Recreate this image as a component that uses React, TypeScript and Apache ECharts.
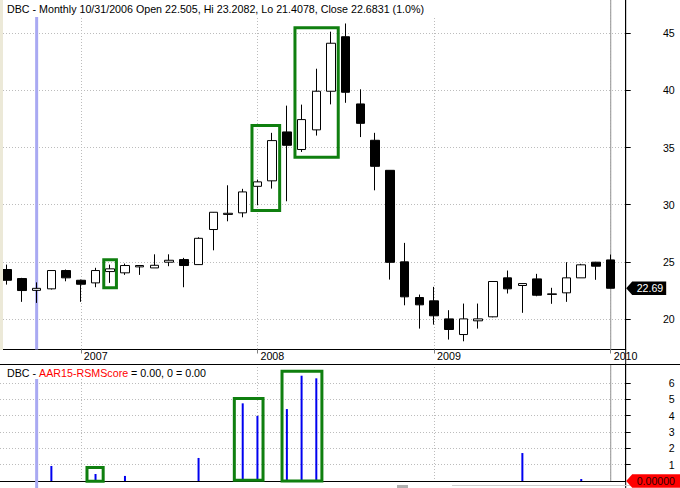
import React, { useEffect, useRef } from 'react';
import * as echarts from 'echarts';

// Monthly DBC candles, Aug 2006 (index 0) .. Jan 2010 (index 41)
const opens = [24.33, 23.54, 22.505, 22.64, 24.24, 23.39, 23.16, 24.15, 24.04, 24.56, 24.47, 24.97, 25.2, 24.76, 27.83, 29.15, 29.29, 31.61, 32.09, 36.37, 34.83, 36.55, 39.93, 44.7, 38.82, 35.64, 33.01, 25.0, 21.88, 21.59, 20.01, 18.64, 19.84, 20.19, 23.6, 22.93, 23.51, 22.15, 22.29, 23.6, 24.97, 25.17];
const closes = [23.39, 22.49, 22.6831, 24.24, 23.6, 23.04, 24.24, 24.39, 24.68, 24.68, 24.7, 25.14, 24.68, 27.06, 29.34, 29.25, 31.12, 32.0, 35.61, 35.2, 37.45, 39.93, 44.13, 39.84, 37.12, 33.36, 24.96, 21.94, 21.24, 20.28, 19.08, 20.01, 20.01, 23.28, 22.64, 23.1, 22.08, 22.2, 23.6, 24.74, 24.62, 22.69];
const lows = [23.01, 21.5, 21.4078, 22.58, 23.3, 21.5, 22.78, 23.16, 23.86, 23.86, 24.47, 24.62, 22.78, 24.74, 26.01, 28.55, 28.9, 29.95, 31.41, 30.3, 34.62, 36.05, 38.78, 38.92, 35.92, 31.26, 23.45, 21.2, 19.16, 19.51, 18.2, 18.05, 19.16, 20.15, 22.23, 20.54, 21.99, 21.33, 21.5, 23.6, 23.43, 22.69];
const highs = [24.76, 23.6, 23.2082, 24.26, 24.33, 23.45, 24.48, 24.76, 24.85, 24.7, 25.66, 25.66, 25.35, 27.15, 29.36, 31.7, 31.39, 32.2, 36.29, 38.67, 38.76, 41.9, 45.14, 45.86, 40.1, 36.29, 33.01, 26.66, 22.14, 22.81, 20.77, 21.35, 21.35, 23.3, 24.24, 23.12, 23.95, 22.73, 24.97, 24.83, 25.0, 25.64];

// AAR15-RSMScore bars
const scoreIdx = [3, 6, 8, 13, 16, 17, 19, 20, 21, 35, 39];
const scoreVals = [0.92, 0.43, 0.31, 1.41, 4.75, 3.98, 4.4, 6.44, 6.28, 1.71, 0.12];

const yearTicks = [5, 17, 29, 41];
const yearLabels = ['2007', '2008', '2009', '2010'];
const priceTicks = [20, 25, 30, 35, 40, 45];
const scoreTicks = [1, 2, 3, 4, 5, 6];

const cursorIdx = 2;
const currentIdx = 41;

// highlight boxes [x0, x1, yLow, yHigh] in data units
const priceBoxes = [
  [6.56, 7.42, 22.73, 25.19],
  [16.63, 18.51, 29.5, 36.93],
  [19.55, 22.49, 34.15, 45.48],
];
const scoreBoxes = [
  [5.42, 6.52, -0.02, 0.83],
  [15.43, 17.38, 0.05, 5.05],
  [18.67, 21.38, 0.0, 6.72],
];

const header1 = 'DBC - Monthly 10/31/2006 Open 22.505, Hi 23.2082, Lo 21.4078, Close 22.6831 (1.0%)';
const header2a = 'DBC - ';
const header2b = 'AAR15-RSMScore';
const header2c = ' = 0.00, 0 = 0.00';

const X_MIN = -0.49;
const X_MAX = 42.02;
const P_MIN = 17.331;
const P_MAX = 47.914;
const S_MIN = 0;
const S_MAX = 7.156;

const FONT = 'Liberation Sans';
const FS = 10.7;

export default function App() {
  const ref = useRef<HTMLDivElement>(null);

  useEffect(() => {
    if (!ref.current) return;
    const chart = echarts.init(ref.current, undefined, { renderer: 'svg' });
    const dotted = { color: '#bcbcbc', width: 1, type: [1, 2] as any };
    const candleData = opens.map((o, i) => [i, o, closes[i], lows[i], highs[i]]);
    const scoreData = scoreIdx.map((x, i) => [x, scoreVals[i]]);
    const yearFmt = (v: number) => {
      const k = yearTicks.indexOf(Math.round(v));
      return k >= 0 ? yearLabels[k] : '';
    };

    const xAxisBase = (g: number, labels: boolean) => ({
      type: 'value',
      gridIndex: g,
      min: X_MIN,
      max: X_MAX,
      axisLine: { show: true, onZero: false, lineStyle: { color: '#000', width: 1 } },
      axisTick: { show: labels, customValues: yearTicks, length: 4, lineStyle: { color: '#808080' } },
      axisLabel: {
        show: labels,
        customValues: yearTicks,
        formatter: yearFmt,
        align: 'left',
        padding: [0, 0, 0, 3],
        margin: 1,
        color: '#000',
        fontSize: FS,
        fontFamily: FONT,
      },
      splitLine: { show: true, lineStyle: dotted },
    });

    const yAxisBase = (g: number, min: number, max: number, ticks: number[]) => ({
      type: 'value',
      gridIndex: g,
      position: 'right',
      min,
      max,
      axisLine: { show: true, onZero: false, lineStyle: { color: '#000', width: 1 } },
      axisTick: { show: true, customValues: ticks, length: 5, lineStyle: { color: '#000' } },
      axisLabel: {
        customValues: ticks,
        align: 'right',
        margin: 49,
        color: '#000',
        fontSize: 10.6,
        fontFamily: FONT,
      },
      splitLine: { show: true, lineStyle: dotted },
    });

    const vline = (xi: number, yi: number, x: number, y0: number, y1: number, color: string, width: number) => ({
      type: 'line',
      xAxisIndex: xi,
      yAxisIndex: yi,
      data: [[x, y0], [x, y1]],
      symbol: 'none',
      silent: true,
      z: 1,
      lineStyle: { color, width },
    });

    chart.setOption({
      animation: false,
      backgroundColor: '#ffffff',
      textStyle: { fontFamily: FONT },
      grid: [
        { left: 0, top: 0, width: 625.7, height: 349.5, outerBoundsMode: 'none' },
        { left: 0, top: 364, width: 625.7, height: 117, outerBoundsMode: 'none' },
      ],
      xAxis: [xAxisBase(0, true), xAxisBase(1, false)],
      yAxis: [yAxisBase(0, P_MIN, P_MAX, priceTicks), yAxisBase(1, S_MIN, S_MAX, scoreTicks)],
      series: [
        vline(0, 0, cursorIdx, P_MIN, P_MAX, '#a9a9f2', 3),
        vline(0, 0, currentIdx, P_MIN, P_MAX, '#a4a4a4', 1.2),
        {
          type: 'candlestick',
          xAxisIndex: 0,
          yAxisIndex: 0,
          data: candleData,
          barWidth: 9,
          z: 3,
          itemStyle: {
            color: '#ffffff',
            color0: '#000000',
            borderColor: '#000000',
            borderColor0: '#000000',
            borderColorDoji: '#000000',
            borderWidth: 1,
          },
        },
        vline(1, 1, cursorIdx, S_MIN, S_MAX, '#a9a9f2', 3),
        vline(1, 1, currentIdx, S_MIN, S_MAX, '#a4a4a4', 1.2),
        {
          type: 'bar',
          xAxisIndex: 1,
          yAxisIndex: 1,
          data: scoreData,
          barWidth: 2,
          z: 3,
          itemStyle: { color: '#0000f0' },
        },
      ],
    });

    const p0 = (x: number, y: number) => chart.convertToPixel({ gridIndex: 0 } as any, [x, y]) as number[];
    const p1 = (x: number, y: number) => chart.convertToPixel({ gridIndex: 1 } as any, [x, y]) as number[];
    const axisX = p0(X_MAX, P_MIN)[0];

    const boxEl = (b: number[], f: (x: number, y: number) => number[]) => {
      const a = f(b[0], b[3]);
      const c = f(b[1], b[2]);
      return {
        type: 'rect',
        z: 100,
        silent: true,
        shape: { x: a[0], y: a[1], width: c[0] - a[0], height: c[1] - a[1] },
        style: { fill: 'none', stroke: '#0f7f0f', lineWidth: 3 },
      };
    };

    const tag = (y: number, right: number, fill: string) => ({
      type: 'polygon',
      z: 110,
      silent: true,
      shape: {
        points: [
          [axisX + 0.5, y],
          [axisX + 6.5, y - 6.7],
          [right, y - 6.7],
          [right, y + 6.7],
          [axisX + 6.5, y + 6.7],
        ],
      },
      style: { fill },
    });

    const closeY = p0(currentIdx, closes[currentIdx])[1];
    const zero = p1(cursorIdx, 0);
    const zeroY = zero[1];

    chart.setOption({
      graphic: [
        { type: 'rect', z: 90, silent: true, shape: { x: 0, y: 0, width: 3, height: 350 }, style: { fill: '#ece9d8' } },
        { type: 'line', z: 90, silent: true, shape: { x1: zero[0], y1: zeroY, x2: zero[0], y2: 488 }, style: { stroke: '#a9a9f2', lineWidth: 3 } },
        { type: 'rect', z: 95, silent: true, shape: { x: 3, y: 0, width: 437, height: 17 }, style: { fill: '#ffffff' } },
        {
          type: 'text', z: 100, silent: true, x: 7, y: 8.7,
          style: { text: header1, fill: '#000', fontSize: FS, fontFamily: FONT, verticalAlign: 'middle', align: 'left' },
        },
        { type: 'rect', z: 95, silent: true, shape: { x: 0, y: 365, width: 212, height: 14 }, style: { fill: '#ffffff' } },
        {
          type: 'text', z: 100, silent: true, x: 7, y: 372.8,
          style: {
            text: '{k|' + header2a + '}{r|' + header2b + '}{k|' + header2c + '}',
            fontSize: FS, fontFamily: FONT, verticalAlign: 'middle', align: 'left', fill: '#000',
            rich: {
              k: { fill: '#000', fontSize: FS, fontFamily: FONT },
              r: { fill: '#ff0000', fontSize: FS, fontFamily: FONT },
            },
          },
        },
        { type: 'line', z: 100, silent: true, shape: { x1: 0, y1: 364.5, x2: 680, y2: 364.5 }, style: { stroke: '#000', lineWidth: 1 } },
        { type: 'line', z: 100, silent: true, shape: { x1: axisX, y1: 0, x2: axisX, y2: 488 }, style: { stroke: '#000', lineWidth: 1 } },
        ...priceBoxes.map((b) => boxEl(b, p0)),
        ...scoreBoxes.map((b) => boxEl(b, p1)),
        tag(closeY, axisX + 40.5, '#000000'),
        {
          type: 'text', z: 120, silent: true, x: axisX + 11, y: closeY,
          style: { text: closes[currentIdx].toFixed(2), fill: '#ffffff', fontSize: 10.6, fontFamily: FONT, verticalAlign: 'middle', align: 'left' },
        },
        tag(zeroY, 681, '#ff0000'),
        {
          type: 'text', z: 120, silent: true, x: axisX + 11, y: zeroY,
          style: { text: (0).toFixed(5), fill: '#300000', fontSize: 10.6, fontFamily: FONT, verticalAlign: 'middle', align: 'left' },
        },
        { type: 'rect', z: 100, silent: true, shape: { x: 397, y: 485, width: 11, height: 3 }, style: { fill: '#b0b0b0' } },
        { type: 'line', z: 100, silent: true, shape: { x1: 452, y1: 485.5, x2: 680, y2: 485.5 }, style: { stroke: '#cfcfcf', lineWidth: 1 } },
      ],
    });

    return () => chart.dispose();
  }, []);

  return <div ref={ref} style={{ position: 'absolute', left: 0, top: 0, width: 680, height: 488 }} />;
}
